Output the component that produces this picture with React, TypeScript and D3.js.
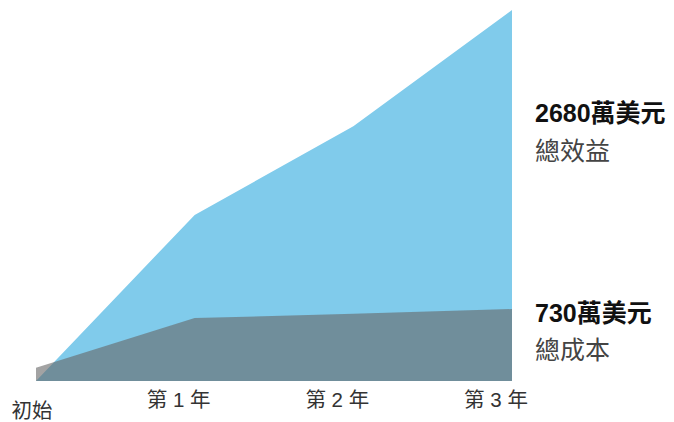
import { useEffect, useRef } from "react";
import * as d3 from "d3";

const periods = ["初始", "第 1 年", "第 2 年", "第 3 年"];
const benefit = [0, 1200, 1840, 2680];
const cost = [95, 455, 485, 520];
const benefitLabel = ["2680萬美元", "總效益"];
const costLabel = ["730萬美元", "總成本"];

const W = 674;
const H = 422;
const FONT = "'Liberation Sans', Arial, 'Noto Sans CJK TC', sans-serif";

export default function App() {
  const ref = useRef<SVGSVGElement>(null);

  useEffect(() => {
    if (!ref.current) return;
    const svg = d3.select(ref.current);
    svg.selectAll("*").remove();

    const x = d3.scalePoint<number>()
      .domain(d3.range(periods.length))
      .range([36, 512]);
    const y = d3.scaleLinear()
      .domain([0, d3.max(benefit)!])
      .range([381, 10]);

    const area = d3.area<number>()
      .x((_, i) => x(i)!)
      .y0(y(0))
      .y1((d) => y(d));

    // benefit area
    svg.append("path")
      .datum(benefit)
      .attr("fill", "#80cbeb")
      .attr("d", area);

    // cost area (overlaps benefit)
    svg.append("path")
      .datum(cost)
      .attr("fill", "#666666")
      .attr("fill-opacity", 0.6)
      .attr("d", area);

    // x labels
    svg.append("g")
      .selectAll("text")
      .data(periods)
      .join("text")
      .attr("x", (_, i) => (i === 0 ? x(i)! - 4 : x(i)! - 16))
      .attr("y", (_, i) => (i === 0 ? 418 : 407))
      .attr("text-anchor", "middle")
      .attr("font-family", FONT)
      .attr("font-size", 20.5)
      .attr("fill", "#333")
      .text((d) => d);

    const last = periods.length - 1;
    const lx = x(last)! + 23;

    // benefit label
    const bY = y(benefit[last]) + 112;
    svg.append("text")
      .attr("x", lx).attr("y", bY)
      .attr("font-family", FONT).attr("font-size", 25).attr("font-weight", "bold")
      .attr("fill", "#111")
      .text(benefitLabel[0]);
    svg.append("text")
      .attr("x", lx).attr("y", bY + 38)
      .attr("font-family", FONT).attr("font-size", 25)
      .attr("fill", "#444")
      .text(benefitLabel[1]);

    // cost label
    const cY = y(cost[last]) + 13;
    svg.append("text")
      .attr("x", lx).attr("y", cY)
      .attr("font-family", FONT).attr("font-size", 25).attr("font-weight", "bold")
      .attr("fill", "#111")
      .text(costLabel[0]);
    svg.append("text")
      .attr("x", lx).attr("y", cY + 37)
      .attr("font-family", FONT).attr("font-size", 25)
      .attr("fill", "#444")
      .text(costLabel[1]);
  }, []);

  return (
    <div style={{ position: "fixed", left: 0, top: 0, width: W, height: H, background: "#fff" }}>
      <svg ref={ref} width={W} height={H} />
    </div>
  );
}
